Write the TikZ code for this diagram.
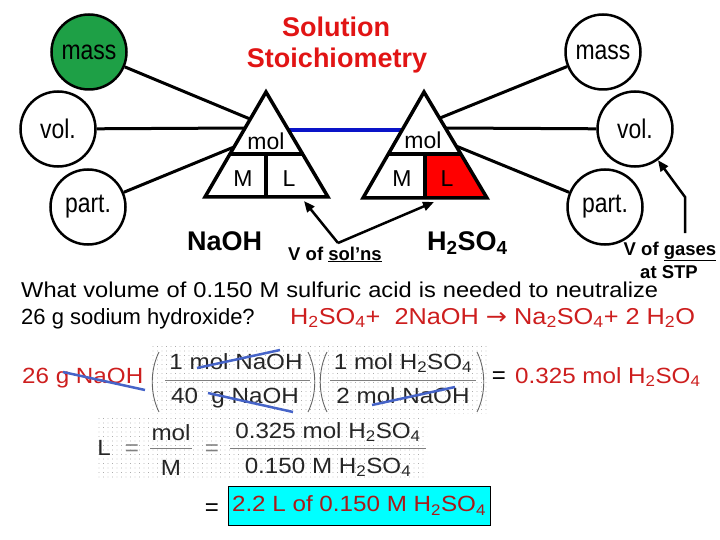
\documentclass[tikz,border=0pt]{standalone}
\usepackage{fontspec}
\setmainfont{Liberation Sans}
\newfontfamily\wfont{Liberation Sans}[FakeStretch=1.1]
\newfontfamily\cfont{Liberation Sans}[FakeStretch=0.85]
\newfontfamily\arrowfont{DejaVu Sans}[FakeStretch=1.1]
\usetikzlibrary{arrows.meta,patterns.meta}
\definecolor{ttlred}{RGB}{225,20,20}
\definecolor{eqred}{RGB}{205,30,30}
\definecolor{ansred}{RGB}{170,25,25}
\definecolor{massgreen}{RGB}{30,160,70}
\definecolor{strikeblue}{RGB}{70,100,200}
\definecolor{linkblue}{RGB}{10,20,200}
\definecolor{boxcyan}{RGB}{0,255,255}
\newcommand\setfs[1]{\fontsize{#1pt}{#1pt}\selectfont}
\begin{document}
\begin{tikzpicture}[x=1pt,y=-1pt,
  circ/.style={circle, draw, line width=2.5pt, minimum size=75pt, inner sep=0pt, font=\cfont\setfs{27}},
  conn/.style={line width=3pt},
  tri/.style={line width=3.5pt, line join=miter},
  lbl/.style={anchor=base, inner sep=0pt, font=\setfs{23}},
  arr/.style={line width=2.5pt, -{Triangle[length=11pt,width=9pt]}},
  xout/.style={strikeblue, line width=2.5pt},
  fracbar/.style={gray, line width=0.6pt},
  paren/.style={black!60, line width=0.9pt},
  dotbg/.style={pattern={Dots[radius=0.45pt,distance=4.5pt]}, pattern color=gray},
  fr/.style={anchor=base, inner sep=0pt, font=\wfont\setfs{22}, text=black!85},
  bold/.style={anchor=base, inner sep=0pt, font=\setfs{18.5}\bfseries}]
\useasboundingbox (0,0) rectangle (720,540);

% title
\node[anchor=base, inner sep=0pt, font=\setfs{27}\bfseries, text=ttlred] (t1) at (336,37) {Solution};
\node[anchor=base, inner sep=0pt, font=\setfs{27}\bfseries, text=ttlred] (t2) at (337,68) {Stoichiometry};

% circles
\node[circ, fill=massgreen] (massL) at (89,52) {mass};
\node[circ] (volL) at (58,129) {vol.};
\node[circ] (partL) at (88,207) {part.};
\node[circ] (massR) at (603,52) {mass};
\node[circ] (volR) at (635,129) {vol.};
\node[circ] (partR) at (605,207) {part.};

% triangle geometry
\coordinate (LA) at (266,92); \coordinate (LBL) at (205,197); \coordinate (LBR) at (328,197);
\coordinate (LDl) at (230,154); \coordinate (LDr) at (302.5,154);
\coordinate (LDm) at (266,154); \coordinate (LBm) at (266,197);
\coordinate (RA) at (424,92); \coordinate (RBL) at (363,198); \coordinate (RBR) at (487,198);
\coordinate (RDl) at (388.5,154); \coordinate (RDr) at (460.5,154);
\coordinate (RDm) at (425,154); \coordinate (RBm) at (425,198);
\coordinate (Lc1) at (250,119); \coordinate (Lc2) at (245,128); \coordinate (Lc3) at (234,147);
\coordinate (Rc1) at (440,118); \coordinate (Rc2) at (446,128); \coordinate (Rc3) at (456,146);
\coordinate (Lb) at (288,130); \coordinate (Rb) at (402,130);

\fill[red] (RDm) -- (RDr) -- (RBR) -- (RBm) -- cycle;

% connectors
\draw[conn] (massL) -- (Lc1);
\draw[conn] (volL) -- (Lc2);
\draw[conn] (partL) -- (Lc3);
\draw[conn] (massR) -- (Rc1);
\draw[conn] (volR) -- (Rc2);
\draw[conn] (partR) -- (Rc3);
\draw[line width=4pt, linkblue] (Lb) -- (Rb);

% triangles
\draw[tri] (LA) -- (LBR) -- (LBL) -- cycle;
\draw[tri] (LDl) -- (LDr);
\draw[tri] (LDm) -- (LBm);
\draw[tri] (RA) -- (RBR) -- (RBL) -- cycle;
\draw[tri] (RDl) -- (RDr);
\draw[tri] (RDm) -- (RBm);

\node[lbl] (molL) at (266,150) {mol};
\node[lbl] (ML) at (243,187) {M};
\node[lbl] (LL) at (289,187) {L};
\node[lbl] (molR) at (423,149) {mol};
\node[lbl] (MR) at (402,187) {M};
\node[lbl] (LR) at (447,187) {L};

% species labels
\node[anchor=base west, inner sep=0pt, font=\setfs{27}\bfseries] (naoh) at (187,250) {NaOH};
\node[anchor=base west, inner sep=0pt, font=\setfs{27}\bfseries] (h2so4) at (427,250) {H\textsubscript{2}SO\textsubscript{4}};

% V of sol'ns
\node[bold] (vsol) at (335,260) {V of \underline{sol’ns}};
\coordinate (vtip) at (338,243);
\coordinate (tL) at (304,201);
\coordinate (tR) at (434,202);
\draw[arr] (vtip) -- (tL);
\draw[arr] (vtip) -- (tR);

% V of gases
\node[bold] (gas1) at (670,255) {V of \underline{gases}};
\node[bold] (gas2) at (669,278) {at STP};
\coordinate (g0) at (685,233);
\coordinate (g1) at (685,197);
\draw[arr] (g0) -- (g1) -- (volR);

% question
\node[anchor=base west, inner sep=0pt, font=\wfont\setfs{21.5}] (q1) at (21,297)
  {\makebox[637pt][s]{What volume of 0.150 M sulfuric acid is needed to neutralize}};
\node[anchor=base west, inner sep=0pt, font=\setfs{22}] (q2) at (21,324) {26 g sodium hydroxide?};
\node[anchor=base west, inner sep=0pt, font=\wfont\setfs{23}, text=eqred] (eq) at (290,324)
  {H\textsubscript{2}SO\textsubscript{4}+ \ 2NaOH {\arrowfont →} Na\textsubscript{2}SO\textsubscript{4}+ 2 H\textsubscript{2}O};

% dotted backgrounds
\path[dotbg] (150,345) rectangle (487,413);
\path[dotbg] (95,416) rectangle (427,479);

% first calculation
\node[anchor=base west, inner sep=0pt, font=\wfont\setfs{22}, text=eqred] (g26) at (22,383) {26 g NaOH};
\draw[paren] (159,352) .. controls (150,370) and (150,394) .. (159,412);
\draw[paren] (308,352) .. controls (317,370) and (317,394) .. (308,412);
\draw[paren] (327,352) .. controls (318,370) and (318,394) .. (327,412);
\draw[paren] (477,352) .. controls (486,370) and (486,394) .. (477,412);
\node[fr] (n1) at (236,369) {1~mol~NaOH};
\draw[fracbar] (165,380) -- (310,380);
\node[fr] (d1) at (235,403) {40~~g~NaOH};
\node[fr] (n2) at (403,369) {1~mol~H\textsubscript{2}SO\textsubscript{4}};
\draw[fracbar] (330,380) -- (476,380);
\node[fr] (d2) at (403,403) {2~mol~NaOH};
\node[anchor=base, inner sep=0pt, font=\setfs{24}] (eq1) at (499,383) {=};
\node[anchor=base west, inner sep=0pt, font=\wfont\setfs{22}, text=eqred] (res1) at (515,383) {0.325 mol H\textsubscript{2}SO\textsubscript{4}};
\draw[xout] (63,372) -- (145,390);
\draw[xout] (197,368) -- (280,350);
\draw[xout] (208,393) -- (293,412);
\draw[xout] (372,405) -- (455,387);

% second calculation
\node[fr] (Lsym) at (104,455) {L};
\node[fr, text=gray] (eqa) at (132,455) {=};
\node[fr] (molf) at (171,440) {mol};
\draw[fracbar] (150,448) -- (192,448);
\node[fr] (Mf) at (171,475) {M};
\node[fr, text=gray] (eqb) at (212,455) {=};
\node[fr] (n3) at (328,438) {0.325~mol~H\textsubscript{2}SO\textsubscript{4}};
\draw[fracbar] (230,448) -- (426,448);
\node[fr] (d3) at (328,473) {0.150~M~H\textsubscript{2}SO\textsubscript{4}};

% result
\node[anchor=base, inner sep=0pt, font=\setfs{24}] (eqr) at (212,515) {=};
\node[draw=black, fill=boxcyan, line width=0.8pt, minimum width=262pt, minimum height=39pt,
  inner sep=0pt, font=\wfont\setfs{22}, text=ansred] (ans) at (359,505.5) {2.2 L of 0.150 M H\textsubscript{2}SO\textsubscript{4}};
\end{tikzpicture}
\end{document}
